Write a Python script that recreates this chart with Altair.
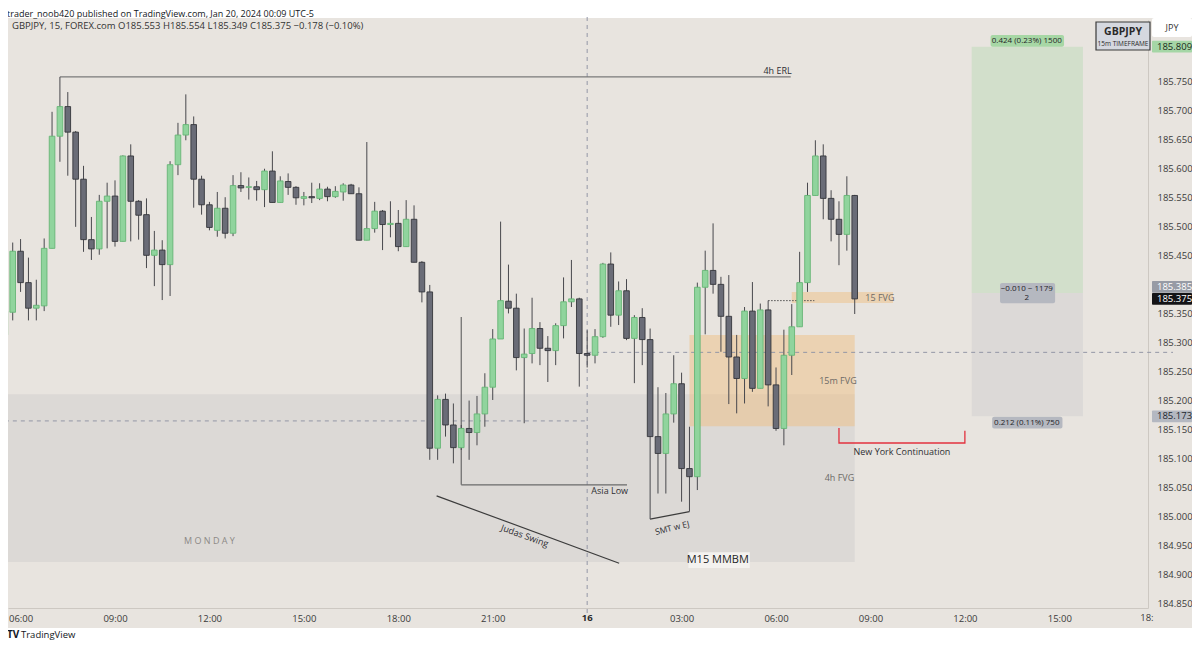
import altair as alt
import numpy as np
import pandas as pd

FONT = "Open Sans"
BG = "#e8e4df"

# ---------------- data ----------------
symbol = "GBPJPY"
start = "2024-01-15 05:30"   # first (partly hidden) 15-minute candle, UTC-5 clock

opens = [185.313, 185.352, 185.457, 185.403, 185.359, 185.363, 185.462, 185.655, 185.706, 185.662,
         185.581, 185.477, 185.461, 185.543, 185.552, 185.474, 185.621, 185.543, 185.520, 185.450,
         185.459, 185.434, 185.606, 185.657, 185.675, 185.581, 185.537, 185.493, 185.531, 185.488,
         185.570, 185.567, 185.568, 185.563, 185.595, 185.541, 185.577, 185.567, 185.548, 185.551,
         185.548, 185.564, 185.551, 185.559, 185.571, 185.556, 185.476, 185.496, 185.526, 185.503,
         185.505, 185.465, 185.512, 185.438, 185.387, 185.118, 185.202, 185.158, 185.119, 185.152,
         185.145, 185.177, 185.223, 185.306, 185.371, 185.359, 185.274, 185.281, 185.324, 185.290,
         185.286, 185.329, 185.370, 185.375, 185.281, 185.278, 185.310, 185.435, 185.347, 185.389,
         185.307, 185.343, 185.305, 185.138, 185.109, 185.177, 185.229, 185.083, 185.069, 185.395,
         185.424, 185.400, 185.345, 185.275, 185.238, 185.354, 185.221, 185.356, 185.227, 185.152,
         185.278, 185.327, 185.403, 185.553, 185.621, 185.548, 185.512, 185.486, 185.553]
highs = [185.364, 185.472, 185.478, 185.446, 185.408, 185.479, 185.697, 185.757, 185.731, 185.664,
         185.604, 185.516, 185.554, 185.575, 185.579, 185.622, 185.641, 185.545, 185.548, 185.492,
         185.476, 185.612, 185.678, 185.727, 185.689, 185.587, 185.542, 185.559, 185.550, 185.588,
         185.593, 185.584, 185.578, 185.599, 185.629, 185.586, 185.591, 185.569, 185.559, 185.575,
         185.574, 185.568, 185.569, 185.574, 185.573, 185.567, 185.645, 185.542, 185.528, 185.543,
         185.528, 185.545, 185.536, 185.440, 185.399, 185.209, 185.212, 185.195, 185.158, 185.200,
         185.208, 185.247, 185.323, 185.508, 185.434, 185.384, 185.324, 185.377, 185.335, 185.311,
         185.333, 185.412, 185.442, 185.377, 185.321, 185.323, 185.437, 185.455, 185.405, 185.409,
         185.347, 185.359, 185.324, 185.223, 185.213, 185.278, 185.248, 185.155, 185.403, 185.458,
         185.505, 185.413, 185.416, 185.313, 185.361, 185.404, 185.367, 185.372, 185.257, 185.322,
         185.366, 185.456, 185.575, 185.648, 185.641, 185.562, 185.543, 185.586, 185.554]
lows = [185.304, 185.338, 185.387, 185.338, 185.338, 185.354, 185.462, 185.611, 185.587, 185.499,
        185.456, 185.442, 185.451, 185.462, 185.465, 185.474, 185.474, 185.477, 185.428, 185.397,
        185.373, 185.380, 185.588, 185.648, 185.532, 185.520, 185.493, 185.482, 185.479, 185.483,
        185.559, 185.546, 185.544, 185.533, 185.541, 185.541, 185.554, 185.537, 185.536, 185.540,
        185.545, 185.543, 185.549, 185.544, 185.556, 185.476, 185.476, 185.489, 185.459, 185.481,
        185.457, 185.465, 185.438, 185.369, 185.098, 185.098, 185.138, 185.092, 185.115, 185.098,
        185.123, 185.155, 185.201, 185.306, 185.350, 185.252, 185.161, 185.264, 185.261, 185.232,
        185.261, 185.307, 185.361, 185.224, 185.257, 185.264, 185.308, 185.327, 185.330, 185.304,
        185.230, 185.261, 184.996, 185.040, 185.040, 185.162, 185.026, 185.009, 185.046, 185.314,
        185.384, 185.284, 185.194, 185.178, 185.195, 185.215, 185.221, 185.190, 185.148, 185.123,
        185.244, 185.327, 185.387, 185.553, 185.512, 185.474, 185.433, 185.458, 185.349]
closes = [185.354, 185.457, 185.403, 185.359, 185.364, 185.462, 185.655, 185.706, 185.662, 185.581,
          185.477, 185.461, 185.543, 185.552, 185.474, 185.621, 185.543, 185.519, 185.450, 185.459,
          185.434, 185.606, 185.657, 185.675, 185.581, 185.537, 185.498, 185.531, 185.488, 185.570,
          185.566, 185.568, 185.563, 185.595, 185.541, 185.578, 185.567, 185.549, 185.551, 185.549,
          185.564, 185.551, 185.560, 185.571, 185.556, 185.476, 185.496, 185.526, 185.503, 185.505,
          185.465, 185.512, 185.438, 185.387, 185.118, 185.202, 185.158, 185.119, 185.152, 185.145,
          185.177, 185.223, 185.306, 185.372, 185.359, 185.274, 185.280, 185.324, 185.290, 185.286,
          185.329, 185.370, 185.375, 185.281, 185.278, 185.310, 185.435, 185.347, 185.389, 185.307,
          185.343, 185.305, 185.138, 185.109, 185.177, 185.229, 185.083, 185.069, 185.395, 185.424,
          185.400, 185.345, 185.275, 185.238, 185.354, 185.221, 185.356, 185.227, 185.152, 185.278,
          185.327, 185.403, 185.553, 185.621, 185.548, 185.512, 185.486, 185.553, 185.375]

# price labels (185.400 / 185.800 sit under the coloured price tags)
price_ticks = [184.85, 184.90, 184.95, 185.00, 185.05, 185.10, 185.15, 185.20, 185.25, 185.30,
               185.35, 185.45, 185.50, 185.55, 185.60, 185.65, 185.70, 185.75]
time_ticks = ["2024-01-15 06:00", "2024-01-15 09:00", "2024-01-15 12:00", "2024-01-15 15:00",
              "2024-01-15 18:00", "2024-01-15 21:00", "2024-01-16 03:00", "2024-01-16 06:00",
              "2024-01-16 09:00", "2024-01-16 12:00", "2024-01-16 15:00"]
day_label, day_t = "16", "2024-01-16 00:00"

# long position tool
entry, target, stop = 185.385, 185.809, 185.173
pos_start, pos_end = "2024-01-16 12:13", "2024-01-16 15:45"

# shaded zones: Monday 4h FVG, 15m FVG, 15 FVG
zone_t1 = ["2024-01-15 05:30", "2024-01-16 03:15", "2024-01-16 06:30"]
zone_t2 = ["2024-01-16 08:30", "2024-01-16 08:30", "2024-01-16 09:43"]
zone_lo = [184.922, 185.156, 185.368]
zone_hi = [185.211, 185.313, 185.387]

# drawn lines: 4h ERL, Asia Low (2 parts), Judas Swing, SMT
line_t1 = ["2024-01-15 07:15", "2024-01-15 20:00", "2024-01-15 20:00", "2024-01-15 19:13", "2024-01-16 02:00"]
line_t2 = ["2024-01-16 06:28", "2024-01-15 20:00", "2024-01-16 01:16", "2024-01-16 01:01", "2024-01-16 03:15"]
line_p1 = [185.757, 185.344, 185.055, 185.036, 184.996]
line_p2 = [185.757, 185.055, 185.055, 184.920, 185.009]

# New York continuation bracket (red)
ny_t = ["2024-01-16 08:00", "2024-01-16 08:00", "2024-01-16 12:00", "2024-01-16 12:00"]
ny_p = [185.153, 185.127, 185.127, 185.148]

# flat labels
lab_text = ["4h ERL", "Asia Low", "15m FVG", "4h FVG", "15 FVG", "New York Continuation", "M O N D A Y"]
lab_t = ["2024-01-16 06:03", "2024-01-16 00:43", "2024-01-16 07:58", "2024-01-16 08:01",
         "2024-01-16 09:18", "2024-01-16 10:00", "2024-01-15 12:00"]
lab_p = [185.767, 185.044, 185.233, 185.067, 185.376, 185.111, 184.958]
lab_color = ["#2f2f33", "#2f2f33", "#6d6a66", "#6d6a66", "#6d6a66", "#2f2f33", "#8c8986"]
# tilted labels
judas_text, judas_t, judas_p = "Judas Swing", "2024-01-15 22:01", 184.967
smt_text, smt_t, smt_p = "SMT w EJ", "2024-01-16 02:42", 184.981

mmbm_text, mmbm_t, mmbm_p = "M15 MMBM", "2024-01-16 04:09", 184.926
mmbm_box_t = ["2024-01-16 03:13", "2024-01-16 05:10"]
mmbm_box_p = [184.912, 184.939]

cross_t = "2024-01-16 00:00"
cross_p_left, cross_p_right = 185.165, 185.283
dotted_t = ["2024-01-16 05:45", "2024-01-16 07:13"]
dotted_p = 185.372

tag_vals = [target, entry, closes[-1], stop]


def iso(s):
    return pd.Timestamp(s).strftime("%Y-%m-%dT%H:%M:%SZ")


def dt(s):
    t = pd.Timestamp(s)
    return alt.DateTime(year=t.year, month=t.month, date=t.day, hours=t.hour,
                        minutes=t.minute, seconds=t.second, utc=True)


times = [iso(t) for t in pd.date_range(start, periods=len(opens), freq="15min")]
candles = pd.DataFrame({"t": times, "o": opens, "h": highs, "l": lows, "c": closes})
candles["dir"] = np.where(candles["c"] >= candles["o"], "up", "down")

# ---------------- scales / axes ----------------
xscale = alt.Scale(type="utc", domain=[dt("2024-01-15 05:36:02"), dt("2024-01-16 17:49:03")], padding=0)
yscale = alt.Scale(domain=[184.843, 185.855], nice=False, zero=False, padding=0)

xaxis = alt.Axis(
    title=None, values=[dt(t) for t in time_ticks],
    labelExpr="utcFormat(datum.value, '%H:%M')",
    ticks=False, grid=False, domainColor="#cdc8c2", labelPadding=5, labelFontSize=9.5,
    labelColor="#3b3b3b", labelFont=FONT, labelFlush=False)
yaxis = alt.Axis(
    title=None, orient="right", values=price_ticks, format=".3f", ticks=False, grid=False,
    domainColor="#cdc8c2", labelPadding=9, labelFontSize=9.5, labelColor="#3b3b3b", labelFont=FONT)


def X(f):
    return alt.X(f, type="temporal", scale=xscale, axis=xaxis)


def Y(f):
    return alt.Y(f, type="quantitative", scale=yscale, axis=yaxis)


one = pd.DataFrame({"a": [0]})

# ---------------- layers ----------------
strip_top = alt.Chart(one).mark_rect(color="white").encode(
    x=alt.value(-20), x2=alt.value(1220), y=alt.value(-20), y2=alt.value(-2))
strip_bot = alt.Chart(one).mark_rect(color="white").encode(
    x=alt.value(-20), x2=alt.value(1220), y=alt.value(608), y2=alt.value(660))

zones = pd.DataFrame({
    "t1": [iso(t) for t in zone_t1] + [iso(pos_start), iso(pos_start), iso(mmbm_box_t[0])],
    "t2": [iso(t) for t in zone_t2] + [iso(pos_end), iso(pos_end), iso(mmbm_box_t[1])],
    "lo": zone_lo + [entry, stop, mmbm_box_p[0]],
    "hi": zone_hi + [target, entry, mmbm_box_p[1]],
    "fill": ["#dcd9d6", "#f0bd7c", "#f0bd7c", "#d2dfcb", "#dcd9d7", "#f4f2ef"],
    "op": [1, 0.45, 0.45, 1, 1, 1],
})
zone_layer = alt.Chart(zones).mark_rect().encode(
    x=X("t1"), x2="t2", y=Y("lo"), y2="hi",
    fill=alt.Fill("fill:N", scale=None), opacity=alt.Opacity("op:Q", scale=None))

cross_v = alt.Chart(pd.DataFrame({"t": [iso(cross_t)]})).mark_rule(
    color="#9397a6", strokeDash=[4, 4], strokeWidth=1).encode(
    x=X("t"), y=alt.value(-3), y2=alt.value(594))
cross_hl = alt.Chart(pd.DataFrame({"t1": [iso(start)], "t2": [iso(cross_t)], "p": [cross_p_left]})).mark_rule(
    color="#9397a6", strokeDash=[4, 4], strokeWidth=1).encode(x=X("t1"), x2="t2", y=Y("p"))
cross_hr = alt.Chart(pd.DataFrame({"t1": [iso(cross_t)], "p": [cross_p_right]})).mark_rule(
    color="#9397a6", strokeDash=[4, 4], strokeWidth=1).encode(x=X("t1"), x2=alt.value(1165), y=Y("p"))

dotted = alt.Chart(pd.DataFrame({"t1": [iso(dotted_t[0])], "t2": [iso(dotted_t[1])], "p": [dotted_p]})).mark_rule(
    color="#4d4d4d", strokeDash=[1.5, 1.5], strokeWidth=1).encode(x=X("t1"), x2="t2", y=Y("p"))

segs = pd.DataFrame({"t1": [iso(t) for t in line_t1], "t2": [iso(t) for t in line_t2],
                     "p1": line_p1, "p2": line_p2,
                     "color": ["#7a7a7a", "#6a6a6a", "#6a6a6a", "#3c3c3c", "#3c3c3c"]})
seg_layer = alt.Chart(segs).mark_rule(strokeWidth=1.2).encode(
    x=X("t1"), x2="t2", y=Y("p1"), y2="p2", color=alt.Color("color:N", scale=None))

ny = pd.DataFrame({"t": [iso(t) for t in ny_t], "p": ny_p, "k": list(range(len(ny_t)))})
ny_layer = alt.Chart(ny).mark_line(color="#e2323f", strokeWidth=1.3).encode(
    x=X("t"), y=Y("p"), order="k:Q")

wicks = alt.Chart(candles).mark_rule(color="#48484d", strokeWidth=1).encode(
    x=X("t"), y=Y("l"), y2="h")
up_bodies = alt.Chart(candles).transform_filter(alt.datum.dir == "up").mark_bar(
    width=5.6, strokeWidth=0.9, fill="#90d49d", stroke="#67b576").encode(x=X("t"), y=Y("o"), y2="c")
down_bodies = alt.Chart(candles).transform_filter(alt.datum.dir == "down").mark_bar(
    width=5.6, strokeWidth=0.9, fill="#6a6c77", stroke="#34353b").encode(x=X("t"), y=Y("o"), y2="c")

labs = pd.DataFrame({"t": [iso(t) for t in lab_t], "p": lab_p, "txt": lab_text, "color": lab_color})
lab_layer = alt.Chart(labs).mark_text(font=FONT, fontSize=9, baseline="middle").encode(
    x=X("t"), y=Y("p"), text="txt:N", color=alt.Color("color:N", scale=None))
judas_layer = alt.Chart(pd.DataFrame({"t": [iso(judas_t)], "p": [judas_p], "txt": [judas_text]})).mark_text(
    font=FONT, fontSize=9, baseline="middle", angle=20, color="#2f2f33").encode(x=X("t"), y=Y("p"), text="txt:N")
smt_layer = alt.Chart(pd.DataFrame({"t": [iso(smt_t)], "p": [smt_p], "txt": [smt_text]})).mark_text(
    font=FONT, fontSize=8.5, baseline="middle", angle=346, color="#2f2f33").encode(x=X("t"), y=Y("p"), text="txt:N")
mmbm_layer = alt.Chart(pd.DataFrame({"t": [iso(mmbm_t)], "p": [mmbm_p], "txt": [mmbm_text]})).mark_text(
    font=FONT, fontSize=11, color="#1e1e1e", baseline="middle").encode(x=X("t"), y=Y("p"), text="txt:N")

# long-position pills
reward = target - entry
risk = entry - stop
pnl = closes[-1] - entry
pill_t1 = ["2024-01-16 12:49", "2024-01-16 13:07", "2024-01-16 12:52"]
pill_t2 = ["2024-01-16 15:09", "2024-01-16 14:52", "2024-01-16 15:06"]
pills = pd.DataFrame({
    "t1": [iso(t) for t in pill_t1], "t2": [iso(t) for t in pill_t2],
    "lo": [target, entry - 0.0175, stop - 0.021], "hi": [target + 0.020, entry + 0.0175, stop - 0.001],
    "fill": ["#a7d7a5", "#b5b8c0", "#b5b8c0"]})
pill_layer = alt.Chart(pills).mark_rect(cornerRadius=2).encode(
    x=X("t1"), x2="t2", y=Y("lo"), y2="hi", fill=alt.Fill("fill:N", scale=None))
pill_txt = pd.DataFrame({
    "t": [iso("2024-01-16 13:58")] * 4,
    "p": [target + 0.010, entry + 0.0078, entry - 0.0088, stop - 0.011],
    "txt": [f"{reward:.3f} ({reward / entry * 100:.2f}%) 1500",
            f"\u2212{abs(pnl):.3f} ~ 1179", f"{reward / risk:.0f}",
            f"{risk:.3f} ({risk / entry * 100:.2f}%) 750"]})
pill_txt_layer = alt.Chart(pill_txt).mark_text(font=FONT, fontSize=8, color="#1f2328", baseline="middle").encode(
    x=X("t"), y=Y("p"), text="txt:N")

# price-axis tags
tags = pd.DataFrame({"v": tag_vals, "shift": [0, 0.0105, 0, 0],
                     "bg": ["#a5d6a6", "#979ba5", "#131316", "#b4b8c1"],
                     "fg": ["#1b2a1b", "#ffffff", "#ffffff", "#22262f"]})
tags["c"] = tags["v"] + tags["shift"]
tags["lo"] = tags["c"] - 0.0101
tags["hi"] = tags["c"] + 0.0101
tags["txt"] = tags["v"].map(lambda v: f"{v:.3f}")
tag_rect = alt.Chart(tags).mark_rect(cornerRadius=1).encode(
    x=alt.value(1144), x2=alt.value(1184), y=Y("lo"), y2="hi", fill=alt.Fill("bg:N", scale=None))
tag_text = alt.Chart(tags).mark_text(font=FONT, fontSize=9.5, baseline="middle", align="left").encode(
    x=alt.value(1149), y=Y("c"), text="txt:N", color=alt.Color("fg:N", scale=None))

# corner boxes / header / footer
jpy_box = alt.Chart(one).mark_rect(fill="white", cornerRadius=2).encode(
    x=alt.value(1144), x2=alt.value(1184), y=alt.value(-2), y2=alt.value(17))
jpy_txt = alt.Chart(one).mark_text(text="JPY", font=FONT, fontSize=9, color="#333333").encode(
    x=alt.value(1164), y=alt.value(7.5))
sym_box = alt.Chart(one).mark_rect(fill="#d5d8df", stroke="#3a3a3a", strokeWidth=1.2).encode(
    x=alt.value(1088), x2=alt.value(1142), y=alt.value(2), y2=alt.value(30))
sym_txt = alt.Chart(one).mark_text(text=symbol, font=FONT, fontSize=10.5, fontWeight="bold", color="#2a2a2a").encode(
    x=alt.value(1115), y=alt.value(11.5))
sym_sub = alt.Chart(one).mark_text(text="15m TIMEFRAME", font=FONT, fontSize=6.5, color="#2a2a2a").encode(
    x=alt.value(1115), y=alt.value(23.5))

chg = closes[-1] - closes[-2]
header = (f"{symbol}, 15, FOREX.com  O{opens[-1]:.3f}  H{highs[-1]:.3f}  L{lows[-1]:.3f}  "
          f"C{closes[-1]:.3f}  \u2212{abs(chg):.3f} (\u2212{abs(chg) / closes[-2] * 100:.2f}%)")
head_txt = alt.Chart(one).mark_text(text=header, font=FONT, fontSize=9.5, color="#333333", align="left").encode(
    x=alt.value(4), y=alt.value(5.5))
pub_txt = alt.Chart(one).mark_text(
    text="trader_noob420 published on TradingView.com, Jan 20, 2024 00:09 UTC-5",
    font=FONT, fontSize=9, color="#131722", align="left", baseline="middle").encode(
    x=alt.value(-1), y=alt.value(-6.5))
tv_logo = alt.Chart(one).mark_text(text="TV", font=FONT, fontSize=10, fontWeight="bold", color="#131722",
                                   align="left").encode(x=alt.value(-1), y=alt.value(615))
tv_txt = alt.Chart(one).mark_text(text="TradingView", font=FONT, fontSize=9.5, color="#131722",
                                  align="left").encode(x=alt.value(13), y=alt.value(615))
day_lbl = alt.Chart(pd.DataFrame({"t": [iso(day_t)], "txt": [day_label]})).mark_text(
    font=FONT, fontSize=9.5, fontWeight="bold", color="#2a2a2a", baseline="middle").encode(
    x=X("t"), y=alt.value(598), text="txt:N")
cut_lbl = alt.Chart(pd.DataFrame({"t": [iso("2024-01-16 17:47")]})).mark_text(
    text="18:", font=FONT, fontSize=9.5, color="#3b3b3b", baseline="middle").encode(
    x=X("t"), y=alt.value(598))

chart = alt.layer(
    strip_top, strip_bot, zone_layer, cross_v, cross_hl, cross_hr, dotted, seg_layer, ny_layer,
    wicks, up_bodies, down_bodies, lab_layer, judas_layer, smt_layer, mmbm_layer,
    pill_layer, pill_txt_layer, tag_rect, tag_text, jpy_box, jpy_txt, sym_box, sym_txt, sym_sub,
    head_txt, pub_txt, tv_logo, tv_txt, day_lbl, cut_lbl,
).properties(
    width=1140, height=588,
    padding={"left": 0, "top": 12, "right": 44, "bottom": 32},
    autosize=alt.AutoSizeParams(type="none"),
    background=BG,
).configure_view(strokeWidth=0)

chart.save("out.html", embed_options={"renderer": "svg", "actions": False})
